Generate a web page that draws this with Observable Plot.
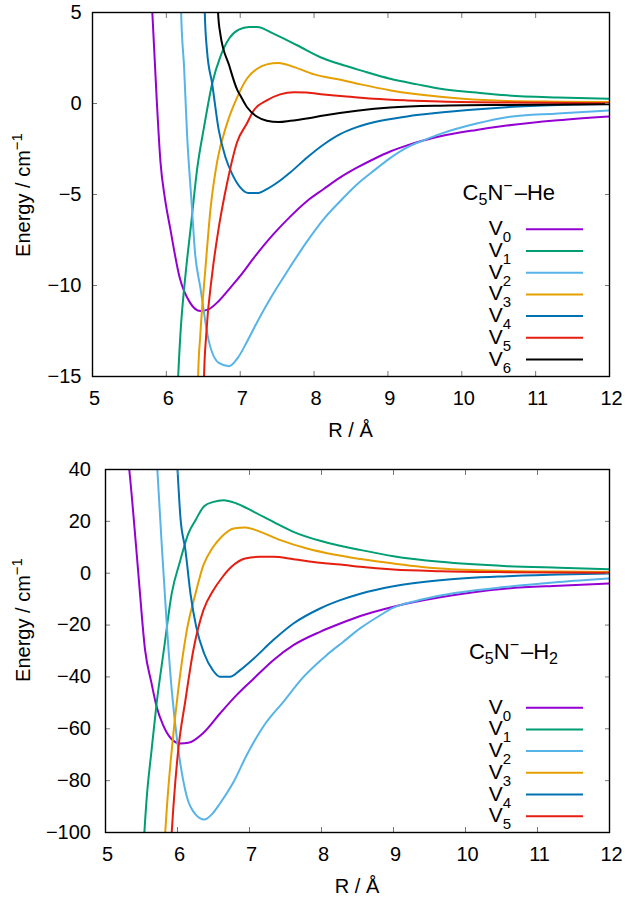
<!DOCTYPE html>
<html><head><meta charset="utf-8">
<script src="https://cdn.jsdelivr.net/npm/d3@7"></script>
<script src="https://cdn.jsdelivr.net/npm/@observablehq/plot@0.6"></script>
<style>
body{margin:0;background:#fff;}
svg{display:block;}
</style>
</head><body><div id="chart"></div>
<script>
// ---------- data ----------
const seriesNames = ["V0","V1","V2","V3","V4","V5","V6"];
const seriesColors = ["#9400d3","#009e73","#56b4e9","#e69f00","#0072b2","#e51e10","#000000"];
const xTicks = [5,6,7,8,9,10,11,12];
const heYTicks = [-15,-10,-5,0,5];
const h2YTicks = [-100,-80,-60,-40,-20,0,20,40];
const heTitle = ["C","5","N","−","–He"];
const h2Title = ["C","5","N","−","–H","2"];
const xLabel = "R / Å";
const yLabel = ["Energy / cm","−1"];

// C5N- – He  (R in Å, E in cm-1)
const he_V0 = [[5.78,7],[5.81,5],[5.87,0.17],[5.92,-3.2],[5.98,-5.2],[6.05,-6.81],[6.18,-9.56],[6.32,-10.94],[6.46,-11.4],[6.57,-11.31],[6.71,-10.85],[6.87,-10.1],[7.0,-9.47],[7.2,-8.4],[7.45,-7.18],[7.68,-6.2],[7.91,-5.34],[8.13,-4.7],[8.36,-4.05],[8.58,-3.53],[8.81,-3.05],[9.03,-2.64],[9.26,-2.3],[9.71,-1.8],[10.2,-1.45],[10.61,-1.21],[11.3,-0.92],[12,-0.71]];
const he_V1 = [[6.14,-17],[6.16,-15],[6.19,-12.7],[6.26,-9.38],[6.33,-6.81],[6.42,-3.5],[6.51,-1.3],[6.62,1.09],[6.73,2.56],[6.85,3.57],[6.98,4.06],[7.12,4.21],[7.23,4.21],[7.45,3.84],[7.77,3.2],[8.13,2.47],[8.4,2.1],[8.63,1.82],[9.03,1.36],[9.4,1.05],[9.71,0.81],[10.2,0.6],[10.61,0.45],[11.3,0.33],[12,0.26]];
const he_V2 = [[6.19,7],[6.2,5],[6.24,2.0],[6.28,-1.67],[6.34,-5.34],[6.39,-8.28],[6.46,-10.1],[6.57,-12.96],[6.71,-14.25],[6.85,-14.43],[6.98,-13.9],[7.09,-13.1],[7.25,-11.85],[7.41,-10.7],[7.68,-8.95],[7.91,-7.55],[8.13,-6.35],[8.36,-5.34],[8.58,-4.45],[8.81,-3.69],[9.03,-3.0],[9.26,-2.41],[9.5,-2.0],[9.71,-1.67],[10.2,-1.1],[10.61,-0.75],[11.3,-0.55],[12,-0.38]];
const he_V3 = [[6.42,-17],[6.43,-15],[6.46,-12.69],[6.53,-9.01],[6.6,-5.71],[6.69,-3.14],[6.82,-1.12],[6.96,0.35],[7.09,1.36],[7.23,1.91],[7.36,2.15],[7.52,2.23],[7.73,2.0],[8.0,1.6],[8.36,1.3],[8.63,1.05],[9.04,0.72],[9.71,0.37],[10.61,0.14],[11.3,0.1],[12,0.08]];
const he_V4 = [[6.51,7],[6.52,5],[6.55,2.92],[6.62,1.09],[6.71,-1.48],[6.8,-2.95],[6.89,-3.87],[7.0,-4.61],[7.11,-4.92],[7.23,-4.92],[7.36,-4.7],[7.55,-4.2],[7.68,-3.78],[7.91,-2.95],[8.13,-2.25],[8.36,-1.67],[8.58,-1.3],[8.81,-1.03],[9.26,-0.71],[9.71,-0.5],[10.61,-0.2],[11.3,-0.08],[12,-0.02]];
const he_V5 = [[6.5,-17],[6.51,-15],[6.54,-12.69],[6.62,-9.38],[6.71,-6.81],[6.82,-4.42],[6.96,-2.1],[7.09,-1.1],[7.18,-0.4],[7.36,0.17],[7.54,0.5],[7.73,0.62],[7.9,0.6],[8.13,0.5],[8.4,0.4],[8.81,0.26],[9.26,0.17],[9.71,0.11],[10.61,0.05],[12,0.02]];
const he_V6 = [[6.69,7],[6.7,5],[6.73,3.84],[6.85,2.1],[6.96,0.75],[7.0,0.45],[7.09,-0.19],[7.23,-0.73],[7.36,-0.95],[7.52,-1.02],[7.68,-0.95],[7.9,-0.82],[8.13,-0.66],[8.58,-0.4],[9.03,-0.22],[9.71,-0.12],[10.61,-0.08],[12,-0.04]];

// C5N- – H2
const h2_V0 = [[5.31,45],[5.33,40],[5.39,21.75],[5.46,-1.39],[5.55,-29.67],[5.64,-42.53],[5.71,-51.53],[5.8,-58.6],[5.91,-63.74],[6.04,-65.67],[6.15,-65.41],[6.36,-61.56],[6.59,-54.1],[6.82,-47.03],[7.06,-40.6],[7.33,-33.53],[7.61,-27.75],[7.98,-22.6],[8.26,-19.39],[8.54,-16.5],[9.0,-12.9],[9.65,-9.3],[10.58,-5.89],[11.3,-4.8],[12,-3.96]];
const h2_V1 = [[5.53,-105],[5.54,-100],[5.57,-87.5],[5.64,-68.2],[5.71,-50.2],[5.81,-29.7],[5.92,-7.8],[6.04,5.03],[6.15,15.3],[6.25,20.46],[6.37,25.86],[6.5,27.53],[6.64,28.17],[6.82,26.9],[7.06,23.67],[7.33,19.8],[7.61,15.96],[7.98,12.5],[8.26,10.6],[8.54,9.0],[9.0,6.58],[9.65,4.4],[10.58,2.72],[11.3,2.1],[12,1.56]];
const h2_V2 = [[5.71,45],[5.72,40],[5.78,11.46],[5.85,-19.4],[5.92,-45.1],[6.0,-65.67],[6.13,-86.2],[6.26,-93.3],[6.37,-95.0],[6.48,-92.9],[6.59,-88.8],[6.78,-80.45],[6.96,-70.2],[7.19,-59.2],[7.47,-49.6],[7.75,-40.0],[8.07,-31.6],[8.3,-26.5],[8.54,-21.2],[8.8,-16.5],[9.0,-13.3],[9.3,-10.8],[9.65,-8.6],[10.58,-5.25],[11.3,-3.4],[12,-2.04]];
const h2_V3 = [[5.82,-105],[5.83,-100],[5.86,-87.5],[5.92,-68.2],[6.01,-45.1],[6.13,-21.96],[6.25,-7.82],[6.36,3.1],[6.49,9.92],[6.62,14.29],[6.78,17.25],[6.94,17.63],[7.15,15.96],[7.43,12.75],[7.8,9.5],[8.17,7.2],[8.54,5.5],[9.0,3.75],[9.65,1.8],[10.58,0.9],[11.3,0.65],[12,0.5]];
const h2_V4 = [[5.99,45],[6.0,40],[6.04,21.75],[6.11,8.9],[6.18,-7.82],[6.26,-20.7],[6.37,-30.96],[6.49,-37.39],[6.59,-39.96],[6.73,-39.96],[6.87,-37.39],[7.06,-32.9],[7.33,-25.8],[7.61,-19.39],[7.98,-13.6],[8.26,-10.4],[8.54,-7.9],[9.0,-5.0],[9.65,-2.68],[10.58,-1.14],[11.3,-0.5],[12,-0.1]];
const h2_V5 = [[5.91,-105],[5.92,-100],[5.95,-87.5],[6.01,-68.2],[6.11,-49.0],[6.22,-29.7],[6.36,-14.25],[6.5,-6.5],[6.62,-1.65],[6.75,2.46],[6.94,5.68],[7.15,6.32],[7.33,6.32],[7.61,5.4],[7.98,4.0],[8.26,3.36],[8.54,2.46],[9.0,1.43],[9.65,0.8],[10.58,0.41],[11.3,0.25],[12,0.15]];

const heSeries = [he_V0,he_V1,he_V2,he_V3,he_V4,he_V5,he_V6];
const h2Series = [h2_V0,h2_V1,h2_V2,h2_V3,h2_V4,h2_V5];

// ---------- drawing ----------
const FONT = "'Liberation Sans', Arial, Helvetica, sans-serif";

function toRows(list) {
  return list.flatMap((pts, i) => pts.map(([R, E]) => ({R, E, s: seriesNames[i]})));
}

function panel(cfg) {
  const rows = toRows(cfg.series);
  const names = seriesNames.slice(0, cfg.series.length);
  const svg = Plot.plot({
    width: 626, height: cfg.height,
    marginLeft: cfg.marginLeft, marginRight: 17, marginTop: cfg.marginTop, marginBottom: cfg.marginBottom,
    style: {fontFamily: FONT, fontSize: "20px", background: "#fff", color: "#000"},
    x: {domain: [5, 12]},
    y: {domain: cfg.yDomain},
    color: {domain: names, range: seriesColors.slice(0, names.length)},
    marks: [
      Plot.line(rows, {x: "R", y: "E", z: "s", stroke: "s", strokeWidth: 2, curve: "monotone-x", clip: true}),
      // inward ticks (all four sides)
      Plot.axisX({anchor: "bottom", ticks: xTicks, tickSize: -5, tickFormat: () => "", label: null, stroke: "#777"}),
      Plot.axisX({anchor: "top", ticks: xTicks, tickSize: -5, tickFormat: () => "", label: null, stroke: "#777"}),
      Plot.axisY({anchor: "left", ticks: cfg.yTicks, tickSize: -5, tickFormat: () => "", label: null, stroke: "#777"}),
      Plot.axisY({anchor: "right", ticks: cfg.yTicks, tickSize: -5, tickFormat: () => "", label: null, stroke: "#777"}),
      // tick labels
      Plot.axisX({anchor: "bottom", ticks: xTicks, tickSize: 0, tickPadding: 14, label: null, dx: 2, tickFormat: d3.format("d")}),
      Plot.axisY({anchor: "left", ticks: cfg.yTicks, tickSize: 0, tickPadding: cfg.yPad, label: null}),
      Plot.frame({stroke: "#000", strokeWidth: 1.4})
    ]
  });

  const s = d3.select(svg);
  const g = s.append("g").attr("font-family", FONT).attr("font-size", 20).attr("fill", "#000");
  const cx = (cfg.marginLeft + 626 - 17) / 2;
  const fb = cfg.height - cfg.marginBottom;

  // x label
  g.append("text").attr("x", cx).attr("y", fb + 61).attr("text-anchor", "middle").text(xLabel);

  // y label
  const yl = g.append("text").attr("transform", `translate(30,${cfg.yLabelY}) rotate(-90)`).attr("text-anchor", "middle");
  yl.append("tspan").text(yLabel[0]);
  yl.append("tspan").attr("dy", -8).attr("font-size", 15).text(yLabel[1]);

  // legend title
  const t = cfg.title;
  const tt = g.append("text").attr("x", cfg.titleX).attr("y", cfg.titleY).attr("text-anchor", "end").attr("font-size", 22);
  tt.append("tspan").text(t[0]);
  tt.append("tspan").attr("dy", 5).attr("font-size", 16).text(t[1]);
  tt.append("tspan").attr("dy", -5).text(t[2]);
  tt.append("tspan").attr("dy", -9).attr("font-size", 16).text(t[3]);
  tt.append("tspan").attr("dy", 9).attr("dx", 2).text(t[4]);
  if (t.length > 5) tt.append("tspan").attr("dy", 5).attr("font-size", 16).text(t[5]);

  // legend entries
  names.forEach((name, i) => {
    const ly = cfg.legendY + i * 21.7;
    const lt = g.append("text").attr("x", 511).attr("y", ly + 6).attr("text-anchor", "end");
    lt.append("tspan").attr("font-size", 21).text(name[0]);
    lt.append("tspan").attr("dy", 7).attr("font-size", 15).text(name.slice(1));
    g.append("line").attr("x1", 526).attr("x2", 583).attr("y1", ly).attr("y2", ly)
      .attr("stroke", seriesColors[i]).attr("stroke-width", 2);
  });
  return svg;
}

const root = document.getElementById("chart");
root.appendChild(panel({
  series: heSeries, yDomain: [-15, 5], yTicks: heYTicks,
  height: 450, marginLeft: 92, marginTop: 12, marginBottom: 74, yPad: 11,
  yLabelY: 195, title: heTitle, titleX: 555, titleY: 200, legendY: 229.3
}));
root.appendChild(panel({
  series: h2Series, yDomain: [-100, 40], yTicks: h2YTicks,
  height: 452, marginLeft: 105, marginTop: 19, marginBottom: 70, yPad: 14.5,
  yLabelY: 170, title: h2Title, titleX: 558, titleY: 209, legendY: 257.7
}));
</script>
</body></html>
